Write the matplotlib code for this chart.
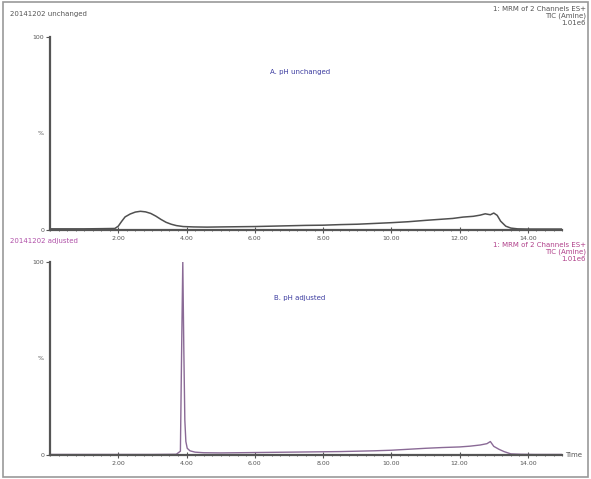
import numpy as np
import matplotlib.pyplot as plt
from matplotlib.patches import Rectangle
from matplotlib.ticker import MultipleLocator

# trace A: pH unchanged (time in min, intensity in %)
t_a = [0.0, 0.5, 1.0, 1.5, 1.9, 2.0, 2.1, 2.2, 2.35, 2.5, 2.65, 2.8, 2.95, 3.1,
       3.25, 3.4, 3.55, 3.7, 3.9, 4.2, 4.6, 5.0, 5.5, 6.0, 6.5, 7.0, 7.5, 8.0,
       8.5, 9.0, 9.5, 10.0, 10.5, 11.0, 11.4, 11.8, 12.1, 12.4, 12.6, 12.75,
       12.9, 13.0, 13.1, 13.2, 13.35, 13.5, 13.7, 14.0, 14.5, 15.0]
i_a = [0.6, 0.6, 0.6, 0.7, 0.8, 2.0, 4.5, 6.8, 8.3, 9.3, 9.7, 9.4, 8.6, 7.2,
       5.5, 4.0, 3.0, 2.3, 1.8, 1.6, 1.5, 1.6, 1.7, 1.8, 2.0, 2.2, 2.4, 2.5,
       2.8, 3.0, 3.4, 3.8, 4.3, 5.0, 5.5, 6.0, 6.7, 7.1, 7.7, 8.4, 7.9, 8.8,
       7.6, 4.6, 2.0, 1.0, 0.6, 0.5, 0.5, 0.5]

# trace B: pH adjusted
t_b = [0.0, 1.0, 2.0, 3.0, 3.7, 3.82, 3.86, 3.89, 3.92, 3.95, 3.98, 4.02,
       4.1, 4.25, 4.5, 5.0, 5.5, 6.0, 6.5, 7.0, 7.5, 8.0, 8.5, 9.0, 9.5,
       10.0, 10.5, 11.0, 11.5, 12.0, 12.3, 12.6, 12.8, 12.9, 13.0, 13.15,
       13.3, 13.5, 13.8, 14.2, 14.6, 15.0]
i_b = [0.3, 0.3, 0.3, 0.3, 0.4, 2.0, 60.0, 100.0, 55.0, 18.0, 7.0, 3.5,
       2.2, 1.5, 1.2, 1.1, 1.2, 1.3, 1.4, 1.5, 1.6, 1.7, 1.8, 2.0, 2.2,
       2.5, 3.0, 3.5, 3.9, 4.2, 4.6, 5.2, 5.9, 7.0, 4.5, 3.0, 1.8, 0.6,
       0.4, 0.3, 0.3, 0.3]

x_ticks = [2, 4, 6, 8, 10, 12, 14]
x_labels = ['2.00', '4.00', '6.00', '8.00', '10.00', '12.00', '14.00']


def style_axis(ax):
    ax.set_xlim(0, 15)
    ax.set_ylim(0, 100)
    for s in ['top', 'right']:
        ax.spines[s].set_visible(False)
    for s in ['left', 'bottom']:
        ax.spines[s].set_linewidth(1.6)
        ax.spines[s].set_color('#555555')
    ax.set_xticks(x_ticks)
    ax.set_xticklabels(x_labels)
    ax.xaxis.set_minor_locator(MultipleLocator(0.25))
    ax.tick_params(axis='x', direction='inout', length=4, width=0.8,
                   labelsize=4.5, colors='#555555', pad=2)
    ax.tick_params(axis='x', which='minor', direction='inout', length=2,
                   width=0.6, colors='#555555')
    ax.set_yticks([0, 100])
    ax.set_yticklabels(['0', '100'])
    ax.tick_params(axis='y', length=3, width=0.8, labelsize=4.5,
                   colors='#555555', pad=1)
    ax.text(-0.012, 50, '%', transform=ax.get_yaxis_transform(), ha='right',
            va='center', fontsize=4.5, color='#555555')


fig = plt.figure(figsize=(5.91, 4.79), dpi=100)
fig.patches.append(Rectangle((0.005, 0.005), 0.99, 0.99, transform=fig.transFigure,
                             fill=False, edgecolor='#999999', linewidth=1.2))

ax1 = fig.add_axes([0.0846, 0.5198, 0.8664, 0.403])
ax1.plot(t_a, i_a, color='#505050', linewidth=1.1)
style_axis(ax1)

ax2 = fig.add_axes([0.0846, 0.05, 0.8664, 0.403])
ax2.plot(t_b, i_b, color='#8a6a96', linewidth=1.0)
style_axis(ax2)
ax2.text(1.005, 0, 'Time', transform=ax2.transAxes, ha='left', va='center',
         fontsize=5, color='#555555')

# headers
fig.text(10 / 591, 1 - 16 / 479, '20141202 unchanged', fontsize=5, color='#555555')
fig.text(586 / 591, 1 - 16 / 479, '1: MRM of 2 Channels ES+\nTIC (Amine)\n1.01e6',
         fontsize=5, color='#555555', ha='right', va='center', linespacing=1.2)
fig.text(10 / 591, 1 - 243 / 479, '20141202 adjusted', fontsize=5, color='#b050a8')
fig.text(586 / 591, 1 - 252 / 479, '1: MRM of 2 Channels ES+\nTIC (Amine)\n1.01e6',
         fontsize=5, color='#b0408a', ha='right', va='center', linespacing=1.2)
fig.text(300 / 591, 1 - 72 / 479, 'A. pH unchanged', fontsize=5, color='#3c3ca0',
         ha='center', va='center')
fig.text(300 / 591, 1 - 298 / 479, 'B. pH adjusted', fontsize=5, color='#3c3ca0',
         ha='center', va='center')

fig.savefig('out.png', dpi=100)
